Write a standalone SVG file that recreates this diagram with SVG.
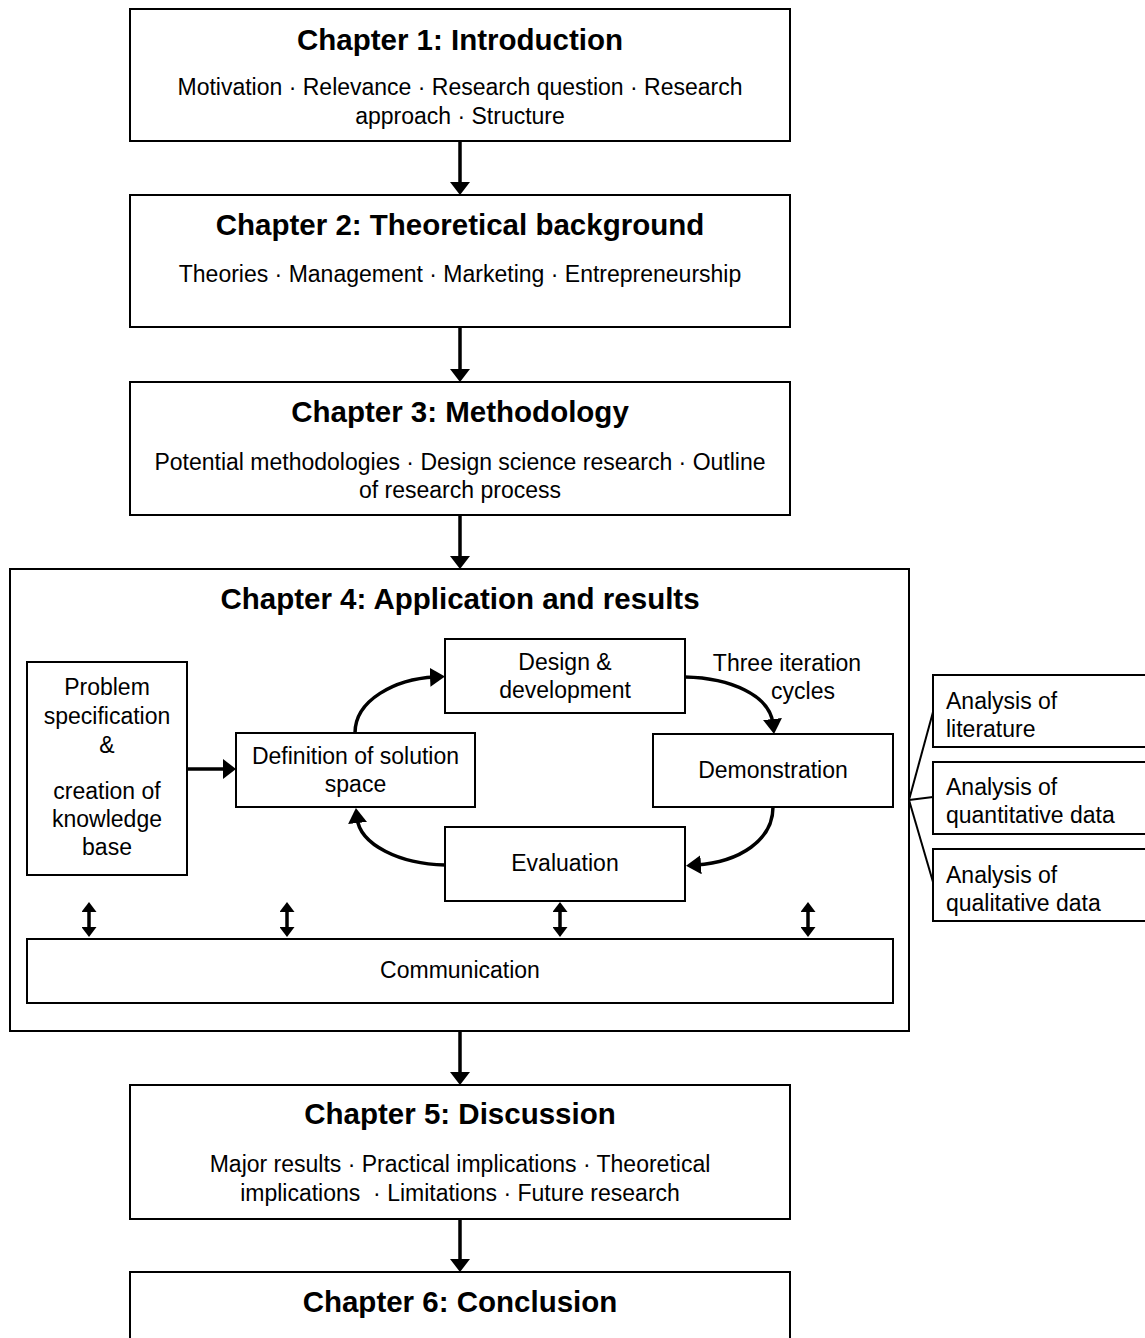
<svg xmlns="http://www.w3.org/2000/svg" width="1145" height="1338" viewBox="0 0 1145 1338">
  <style>
    .box { fill: #ffffff; stroke: #000000; stroke-width: 2; }
    .title { font-family: "Liberation Sans", Arial, sans-serif; font-weight: bold; font-size: 29.5px; fill: #000000; text-anchor: middle; }
    .txt { font-family: "Liberation Sans", Arial, sans-serif; font-size: 23px; fill: #000000; text-anchor: middle; }
    .txtl { font-family: "Liberation Sans", Arial, sans-serif; font-size: 23px; fill: #000000; text-anchor: start; }
    .flow { fill: none; stroke: #000000; stroke-width: 3.5; }
    .cycle { fill: none; stroke: #000000; stroke-width: 3.5; }
    .dbl { fill: none; stroke: #000000; stroke-width: 3.5; }
    .thin { fill: none; stroke: #000000; stroke-width: 2; }
  </style>
  <defs>
    <marker id="head" viewBox="0 0 13 20" markerWidth="13" markerHeight="20" refX="5" refY="10" orient="auto" markerUnits="userSpaceOnUse">
      <path d="M0,0 L13,10 L0,20 Z" fill="#000000"/>
    </marker>
    <marker id="headC" viewBox="0 0 15 19" markerWidth="15" markerHeight="19" refX="5" refY="9.5" orient="auto" markerUnits="userSpaceOnUse">
      <path d="M0,0 L15,9.5 L0,19 Z" fill="#000000"/>
    </marker>
    <marker id="headS" viewBox="0 0 10 15" markerWidth="10" markerHeight="15" refX="3" refY="7.5" orient="auto-start-reverse" markerUnits="userSpaceOnUse">
      <path d="M0,0 L10,7.5 L0,15 Z" fill="#000000"/>
    </marker>
  </defs>

  <rect width="1145" height="1338" fill="#ffffff"/>

  <!-- Chapter 4 container (drawn first so inner nodes sit on top) -->
  <g id="chapter4">
    <rect class="box" x="10" y="569" width="899" height="462"/>
    <text class="title" x="460" y="609">Chapter 4: Application and results</text>
  </g>

  <g id="chapter1">
    <rect class="box" x="130" y="9" width="660" height="132"/>
    <text class="title" x="460" y="50">Chapter 1: Introduction</text>
    <text class="txt" x="460" y="95">Motivation · Relevance · Research question · Research</text>
    <text class="txt" x="460" y="124">approach · Structure</text>
  </g>

  <g id="chapter2">
    <rect class="box" x="130" y="195" width="660" height="132"/>
    <text class="title" x="460" y="235">Chapter 2: Theoretical background</text>
    <text class="txt" x="460" y="282">Theories · Management · Marketing · Entrepreneurship</text>
  </g>

  <g id="chapter3">
    <rect class="box" x="130" y="382" width="660" height="133"/>
    <text class="title" x="460" y="422">Chapter 3: Methodology</text>
    <text class="txt" x="460" y="470">Potential methodologies · Design science research · Outline</text>
    <text class="txt" x="460" y="498">of research process</text>
  </g>

  <g id="problem-specification">
    <rect class="box" x="27" y="662" width="160" height="213"/>
    <text class="txt" x="107" y="695">Problem</text>
    <text class="txt" x="107" y="724">specification</text>
    <text class="txt" x="107" y="753">&amp;</text>
    <text class="txt" x="107" y="799">creation of</text>
    <text class="txt" x="107" y="827">knowledge</text>
    <text class="txt" x="107" y="855">base</text>
  </g>

  <g id="solution-space">
    <rect class="box" x="236" y="733" width="239" height="74"/>
    <text class="txt" x="355.5" y="764">Definition of solution</text>
    <text class="txt" x="355.5" y="792">space</text>
  </g>

  <g id="design-development">
    <rect class="box" x="445" y="639" width="240" height="74"/>
    <text class="txt" x="565" y="670">Design &amp;</text>
    <text class="txt" x="565" y="698">development</text>
  </g>

  <g id="demonstration">
    <rect class="box" x="653" y="734" width="240" height="73"/>
    <text class="txt" x="773" y="778">Demonstration</text>
  </g>

  <g id="evaluation">
    <rect class="box" x="445" y="827" width="240" height="74"/>
    <text class="txt" x="565" y="871">Evaluation</text>
  </g>

  <g id="iteration-label">
    <text class="txt" x="787" y="671">Three iteration</text>
    <text class="txt" x="803" y="699">cycles</text>
  </g>

  <g id="communication">
    <rect class="box" x="27" y="939" width="866" height="64"/>
    <text class="txt" x="460" y="978">Communication</text>
  </g>

  <g id="analysis-literature">
    <rect class="box" x="933" y="675" width="230" height="72"/>
    <text class="txtl" x="946" y="709">Analysis of</text>
    <text class="txtl" x="946" y="737">literature</text>
  </g>

  <g id="analysis-quantitative">
    <rect class="box" x="933" y="762" width="230" height="72"/>
    <text class="txtl" x="946" y="795">Analysis of</text>
    <text class="txtl" x="946" y="823">quantitative data</text>
  </g>

  <g id="analysis-qualitative">
    <rect class="box" x="933" y="849" width="230" height="72"/>
    <text class="txtl" x="946" y="883">Analysis of</text>
    <text class="txtl" x="946" y="911">qualitative data</text>
  </g>

  <g id="chapter5">
    <rect class="box" x="130" y="1085" width="660" height="134"/>
    <text class="title" x="460" y="1124">Chapter 5: Discussion</text>
    <text class="txt" x="460" y="1172">Major results · Practical implications · Theoretical</text>
    <text class="txt" x="460" y="1201" xml:space="preserve">implications  · Limitations · Future research</text>
  </g>

  <g id="chapter6">
    <rect class="box" x="130" y="1272" width="660" height="90"/>
    <text class="title" x="460" y="1312">Chapter 6: Conclusion</text>
  </g>

  <g id="connectors">
    <!-- chapter sequence -->
    <line class="flow" x1="460" y1="141" x2="460" y2="187" marker-end="url(#head)"/>
    <line class="flow" x1="460" y1="327" x2="460" y2="374" marker-end="url(#head)"/>
    <line class="flow" x1="460" y1="515" x2="460" y2="561" marker-end="url(#head)"/>
    <line class="flow" x1="460" y1="1031" x2="460" y2="1077" marker-end="url(#head)"/>
    <line class="flow" x1="460" y1="1219" x2="460" y2="1264" marker-end="url(#head)"/>

    <!-- problem specification into solution space -->
    <line class="flow" x1="187" y1="769" x2="228" y2="769" marker-end="url(#head)"/>

    <!-- iteration cycle -->
    <path class="cycle" d="M355,733 C355,700 395,679 435,677" marker-end="url(#headC)"/>
    <path class="cycle" d="M685,677 C730,678 770,695 773,724" marker-end="url(#headC)"/>
    <path class="cycle" d="M773,807 C773,840 740,862 696,865" marker-end="url(#headC)"/>
    <path class="cycle" d="M445,865 C400,864 360,845 357,818" marker-end="url(#headC)"/>

    <!-- links to communication -->
    <line class="dbl" x1="89" y1="909" x2="89" y2="930" marker-start="url(#headS)" marker-end="url(#headS)"/>
    <line class="dbl" x1="287" y1="909" x2="287" y2="930" marker-start="url(#headS)" marker-end="url(#headS)"/>
    <line class="dbl" x1="560" y1="909" x2="560" y2="930" marker-start="url(#headS)" marker-end="url(#headS)"/>
    <line class="dbl" x1="808" y1="909" x2="808" y2="930" marker-start="url(#headS)" marker-end="url(#headS)"/>

    <!-- analyses feeding chapter 4 -->
    <line class="thin" x1="909" y1="800" x2="933" y2="712"/>
    <line class="thin" x1="909" y1="800" x2="933" y2="797"/>
    <line class="thin" x1="909" y1="800" x2="933" y2="882"/>
  </g>
</svg>
